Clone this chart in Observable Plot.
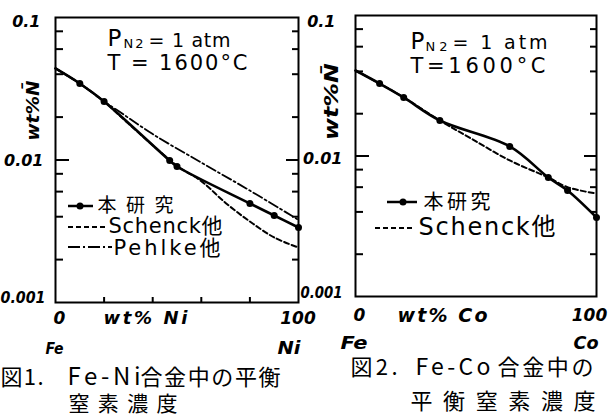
<!DOCTYPE html>
<html><head><meta charset="utf-8">
<script src="https://cdn.jsdelivr.net/npm/d3@7"></script>
<script src="https://cdn.jsdelivr.net/npm/@observablehq/plot@0.6"></script>
<style>
html,body{margin:0;padding:0;background:#fff;}
#chart{position:relative;width:613px;height:417px;background:#fff;overflow:hidden;}
#chart > div{position:absolute;top:0;}
#chart svg{background:transparent !important;overflow:visible;max-width:none !important;}
</style></head>
<body><div id="chart"><div id="p2"></div><div id="p1"></div></div>
<script>
// ---------- data ----------
// Fig.1 Fe-Ni
const niX = [0, 10, 20, 47, 50, 80, 90, 100];
const niStudy = [0.0439, 0.0344, 0.0257, 0.0099, 0.0090, 0.00495, 0.00408, 0.00336];
const niSchenckX = [0, 10, 20, 30, 40, 50, 60, 70, 80, 90, 100];
const niSchenck = [0.0439, 0.0344, 0.0257, 0.0180, 0.0127, 0.0091, 0.0071, 0.0050, 0.0037, 0.00286, 0.00243];
const niPehlkeX = [0, 10, 20, 25, 40, 60, 80, 100];
const niPehlke = [0.0439, 0.0344, 0.0257, 0.0226, 0.0152, 0.0096, 0.0061, 0.0038];
// Fig.2 Fe-Co
const coX = [0, 10, 20, 35, 64, 80, 88, 100];
const coStudy = [0.0406, 0.0328, 0.0261, 0.0179, 0.0117, 0.00703, 0.00568, 0.00365];
const coSchenckX = [0, 10, 20, 35, 48, 64, 80, 88, 100];
const coSchenck = [0.0406, 0.0328, 0.0261, 0.0179, 0.0133, 0.0093, 0.00703, 0.0060, 0.0054];

// ticks and labels
const yTicks = [0.1, 0.01, 0.001];
const yTickLabels = ["0.1", "0.01", "0.001"];
const yMinorTicks = [0.002, 0.004, 0.006, 0.008, 0.02, 0.04, 0.06, 0.08];
const yMajorTicks = [0.01];
const xTicks = [0, 100];
const xTickLabels = ["0", "100"];
const xMinorTicks = [20, 40, 60, 80];
const yLabel = "wt%N\u0304";
const xLabels = ["wt% Ni", "wt% Co"];
const endLabels1 = ["Fe", "Ni"];
const endLabels2 = ["Fe", "Co"];
const cond1 = ["P", "N2", "= 1 atm", "T = 1600°C"];
const cond2 = ["P", "N2", "= 1 atm", "T=1600°C"];
const legend1 = ["本研究", "Schenck他", "Pehlke他"];
const legend2 = ["本研究", "Schenck他"];
const caption1 = ["図1.", "Fe-Ni", "合金中の平衡", "窒素濃度"];
const caption2 = ["図2.", "Fe-Co", "合金中の", "平衡窒素濃度"];

const rows = (xs, ys) => xs.map((x, i) => ({x, y: ys[i]}));
const BO = {fontWeight: "bold", fontStyle: "oblique"};
const CJK = {fontFamily: "'Noto Sans CJK JP', sans-serif"};

function panel(cfg) {
  const fw = cfg.width - cfg.ml - cfg.mr;
  const fh = cfg.fh;
  const mb = cfg.height - cfg.mt - fh;
  const ux = 100 / fw;
  const dec = fh / 2;
  const L = cfg.left;
  const lengths = new Map();
  const at = (txt, X, Y, o = {}) => {
    const {w, adj, ...rest} = o;
    if (w) lengths.set(txt, {w, adj: adj || "spacing"});
    return Plot.text([txt], {frameAnchor: "top-left", dx: X - L - cfg.ml, dy: Y - cfg.mt,
      text: d => d, textAnchor: "start", lineAnchor: "middle", fill: "black", ...rest});
  };
  const marks = [
    Plot.ruleY(yMinorTicks, {x1: 0, x2: 8 * ux, strokeWidth: 2}),
    Plot.ruleY(yMajorTicks, {x1: 0, x2: 14 * ux, strokeWidth: 2}),
    Plot.ruleY(yMinorTicks, {x1: 100 - 6 * ux, x2: 100, strokeWidth: 2}),
    Plot.ruleY(yMajorTicks, {x1: 100 - 12 * ux, x2: 100, strokeWidth: 2}),
  ];
  if (cfg.xMinor) marks.push(Plot.ruleX(xMinorTicks, {y1: 0.001, y2: 0.001 * 10 ** (5 / dec), strokeWidth: 2}));
  for (const s of cfg.series) {
    marks.push(Plot.line(rows(s.x, s.y), {x: "x", y: "y", curve: "catmull-rom", stroke: "black",
      strokeWidth: s.sw, strokeDasharray: s.dash}));
    if (s.dots) marks.push(Plot.dot(rows(s.x, s.y).filter(d => d.x > 0), {x: "x", y: "y", r: 3.5, fill: "black"}));
  }
  marks.push(Plot.frame({stroke: "black", strokeWidth: 2}));
  yTicks.forEach((v, i) => {
    if (cfg.yl[i].w) lengths.set(yTickLabels[i], {w: cfg.yl[i].w, adj: "spacingAndGlyphs"});
    marks.push(Plot.text([v], {y: d => d, frameAnchor: "left", dx: cfg.yl[i].dx, dy: cfg.yl[i].dy,
      text: () => yTickLabels[i], textAnchor: "end", lineAnchor: "middle", fontSize: 16, ...BO}));
  });
  xTicks.forEach((v, i) => {
    marks.push(Plot.text([v], {x: d => d, frameAnchor: "bottom", dx: cfg.xl[i], dy: cfg.xlDy,
      text: () => xTickLabels[i], lineAnchor: "middle", fontSize: 17, ...BO}));
  });
  for (const t of cfg.texts) marks.push(at(t[0], t[1], t[2], t[3]));

  const svg = Plot.plot({
    width: cfg.width, height: cfg.height,
    marginLeft: cfg.ml, marginRight: cfg.mr, marginTop: cfg.mt, marginBottom: mb,
    x: {domain: [0, 100], axis: null},
    y: {type: "log", domain: [0.001, 0.1], axis: null},
    style: {fontFamily: "'DejaVu Sans', 'Noto Sans CJK JP', sans-serif", fontSize: "16px",
      background: "transparent", overflow: "visible", color: "black"},
    marks
  });
  svg.querySelectorAll("text").forEach(t => {
    const m = lengths.get(t.textContent);
    if (m) { t.setAttribute("textLength", m.w); t.setAttribute("lengthAdjust", m.adj); }
  });
  // legend swatches
  const g = d3.select(svg).append("g");
  for (const it of cfg.legend) {
    g.append("line").attr("x1", it.x1 - L).attr("x2", it.x2 - L).attr("y1", it.y).attr("y2", it.y)
      .attr("stroke", "black").attr("stroke-width", it.sw).attr("stroke-dasharray", it.dash || null);
    if (it.dot) g.append("circle").attr("cx", it.dot - L).attr("cy", it.y).attr("r", 3.5).attr("fill", "black");
  }
  const host = document.getElementById(cfg.id);
  host.style.left = L + "px";
  host.style.width = cfg.width + "px";
  host.appendChild(svg);
}

panel({
  id: "p1", left: 0, width: 320, height: 417, ml: 55, mr: 22, mt: 17, fh: 285, xMinor: true,
  series: [
    {x: niPehlkeX, y: niPehlke, sw: 1.8, dash: "10,3,2,3"},
    {x: niSchenckX, y: niSchenck, sw: 2, dash: "5,3"},
    {x: niX, y: niStudy, sw: 2.6, dots: true}
  ],
  yl: [{dx: -15, dy: 4.5}, {dx: -12, dy: 0.5}, {dx: -10, dy: -4.5, w: 45}],
  xl: [4, -0.5], xlDy: 16,
  legend: [
    {x1: 68, x2: 93, y: 206, sw: 2.5, dot: 80},
    {x1: 68, x2: 107, y: 227, sw: 2, dash: "5,3"},
    {x1: 68, x2: 112, y: 247, sw: 1.8, dash: "12,3,2,3"}
  ],
  texts: [
    [xLabels[0], 103, 318, {w: 84, fontSize: 18, ...BO}],
    [yLabel, 32.5, 110, {rotate: -90, textAnchor: "middle", w: 60, adj: "spacingAndGlyphs", fontSize: 18, ...BO}],
    [endLabels1[0], 45, 348, {fontSize: 16, w: 18, adj: "spacingAndGlyphs", ...BO}],
    [endLabels1[1], 277, 348, {fontSize: 17, w: 23, adj: "spacingAndGlyphs", ...BO}],
    [cond1[0], 107, 38.5, {fontSize: 23, w: 15}],
    [cond1[1], 123, 43, {fontSize: 13, w: 20}],
    [cond1[2], 148, 40, {fontSize: 19, w: 82}],
    [cond1[3], 107, 62.5, {fontSize: 21, w: 140}],
    [legend1[0], 97, 205, {fontSize: 19, w: 76}],
    [legend1[1], 108, 226, {fontSize: 21, w: 114}],
    [legend1[2], 113, 248, {fontSize: 21, w: 107}],
    [caption1[0], 0, 377, {fontSize: 22, w: 43, ...CJK}],
    [caption1[1], 67, 377, {fontSize: 24, w: 73, ...CJK}],
    [caption1[2], 140, 377, {fontSize: 22, w: 140, ...CJK}],
    [caption1[3], 68, 404, {fontSize: 21, w: 109, ...CJK}]
  ]
});

panel({
  id: "p2", left: 290, width: 323, height: 417, ml: 65, mr: 17, mt: 15, fh: 281, xMinor: false,
  series: [
    {x: coSchenckX, y: coSchenck, sw: 2, dash: "5,3"},
    {x: coX, y: coStudy, sw: 2.6, dots: true}
  ],
  yl: [{dx: -20, dy: 6}, {dx: -13, dy: 3}, {dx: -13, dy: -4, w: 42}],
  xl: [4, -7], xlDy: 19,
  legend: [
    {x1: 387, x2: 417, y: 202, sw: 2.5, dot: 403},
    {x1: 375, x2: 415, y: 228, sw: 2, dash: "5,3"}
  ],
  texts: [
    [xLabels[1], 397, 315, {w: 90, fontSize: 19, ...BO}],
    [yLabel, 331.5, 101, {rotate: -90, textAnchor: "middle", w: 77, adj: "spacingAndGlyphs", fontSize: 19, ...BO}],
    [endLabels2[0], 340, 343, {fontSize: 18, w: 27, adj: "spacingAndGlyphs", ...BO}],
    [endLabels2[1], 573, 343, {fontSize: 17, w: 25, adj: "spacingAndGlyphs", ...BO}],
    [cond2[0], 410, 41.5, {fontSize: 23, w: 13}],
    [cond2[1], 425, 46, {fontSize: 13, w: 22}],
    [cond2[2], 452, 42, {fontSize: 19, w: 95}],
    [cond2[3], 410, 66, {fontSize: 21, w: 135}],
    [legend2[0], 423, 202, {fontSize: 20, w: 67}],
    [legend2[1], 418, 227, {fontSize: 24, w: 137}],
    [caption2[0], 350, 367, {fontSize: 22, w: 47, ...CJK}],
    [caption2[1], 415, 367, {fontSize: 23, w: 75, ...CJK}],
    [caption2[2], 497, 367, {fontSize: 22, w: 96, ...CJK}],
    [caption2[3], 410, 401, {fontSize: 22, w: 185, ...CJK}]
  ]
});
</script></body></html>
